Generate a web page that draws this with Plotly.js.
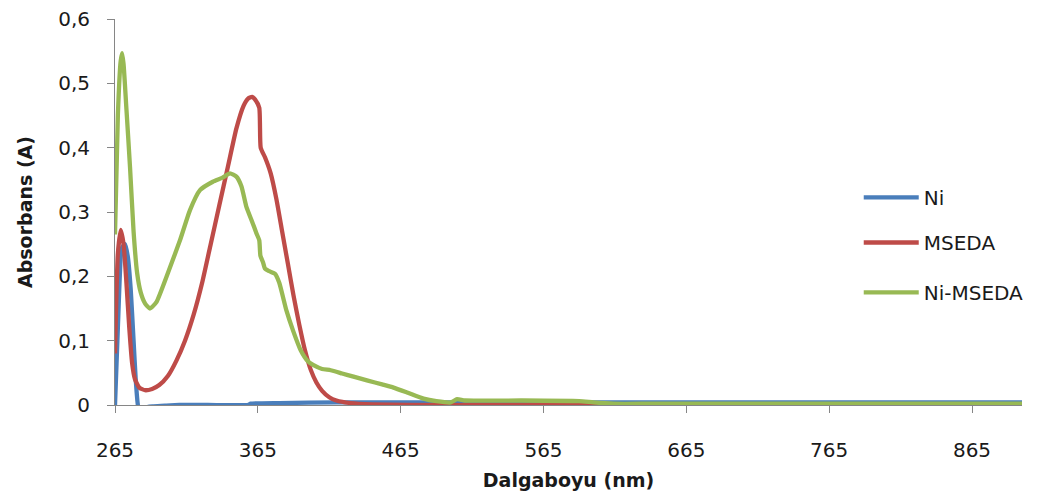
<!DOCTYPE html>
<html>
<head>
<meta charset="utf-8">
<script src="https://cdn.plot.ly/plotly-3.0.1.min.js"></script>
<style>html,body{margin:0;padding:0;background:#fff;}#chart{width:1044px;height:499px;}</style>
</head>
<body>
<div id="chart"></div>
<script>
// Ni
const niX = [265, 267, 269, 270, 272, 274, 276, 278, 279.5, 281, 282.5, 285, 288, 292, 300, 310, 330, 358, 360, 380, 420, 500, 600, 700, 800, 900];
const niY = [0.0, 0.12, 0.23, 0.245, 0.25, 0.23, 0.18, 0.10, 0.04, 0.0, -0.02, -0.02, -0.003, -0.002, -0.001, 0.0, 0.0, 0.0, 0.002, 0.003, 0.004, 0.004, 0.004, 0.004, 0.004, 0.004];
// MSEDA
const msedaX = [265, 267, 269, 271, 273, 275, 277, 279, 282, 286, 291, 296, 302, 308, 314, 320, 326, 332, 338, 344, 350, 355, 358, 361, 363, 366, 367, 370, 374, 378, 382, 386, 390, 394, 398, 402, 406, 410, 415, 420, 430, 445, 470, 520, 600, 700, 800, 900];
const msedaY = [0.08, 0.235, 0.272, 0.25, 0.19, 0.12, 0.065, 0.040, 0.027, 0.023, 0.025, 0.031, 0.045, 0.069, 0.10, 0.14, 0.19, 0.25, 0.31, 0.37, 0.43, 0.465, 0.476, 0.479, 0.475, 0.462, 0.40, 0.385, 0.36, 0.32, 0.27, 0.22, 0.17, 0.125, 0.085, 0.055, 0.035, 0.022, 0.012, 0.007, 0.003, 0.001, 0.0, 0.0, 0.0, 0.0, 0.0, 0.0];
// Ni-MSEDA
const niMsedaX = [265, 267, 269, 270, 271, 273, 275.5, 278, 280.5, 283, 286, 289.5, 294, 301, 310.5, 317.5, 324.5, 333.5, 340, 345.5, 350, 353.5, 357, 361, 364, 366, 366.8, 368.6, 370, 373, 377, 380, 385, 389.6, 395, 400, 404, 410, 416, 424, 432, 442, 452, 460, 470, 481, 490, 500, 504.5, 510, 550, 590, 600, 614, 640, 700, 800, 900];
const niMsedaY = [0.265, 0.45, 0.535, 0.547, 0.53, 0.46, 0.37, 0.27, 0.205, 0.175, 0.158, 0.150, 0.160, 0.199, 0.256, 0.303, 0.334, 0.347, 0.353, 0.360, 0.355, 0.34, 0.308, 0.285, 0.267, 0.256, 0.232, 0.222, 0.212, 0.208, 0.204, 0.19, 0.147, 0.116, 0.085, 0.068, 0.062, 0.056, 0.054, 0.049, 0.044, 0.038, 0.032, 0.027, 0.019, 0.010, 0.006, 0.004, 0.009, 0.007, 0.007, 0.006, 0.004, 0.002, 0.002, 0.002, 0.002, 0.002];

const xTicks = [265, 365, 465, 565, 665, 765, 865];
const xTickLabels = ['265', '365', '465', '565', '665', '765', '865'];
const yTicks = [0, 0.1, 0.2, 0.3, 0.4, 0.5, 0.6];
const yTickLabels = ['0', '0,1', '0,2', '0,3', '0,4', '0,5', '0,6'];

const FONT = 'DejaVu Sans, sans-serif';
const lineStyle = (c) => ({color: c, width: 4.3, shape: 'spline', smoothing: 0.5});
const traces = [
  {x: niX, y: niY, name: 'Ni', mode: 'lines', line: lineStyle('#4A7EBB'), legend: 'legend'},
  {x: msedaX, y: msedaY, name: 'MSEDA', mode: 'lines', line: lineStyle('#BE4B48'), legend: 'legend2'},
  {x: niMsedaX, y: niMsedaY, name: 'Ni-MSEDA', mode: 'lines', line: lineStyle('#98B954'), legend: 'legend3'}
];
const legStyle = (y) => ({x: 0.82, y: y, xanchor: 'left', yanchor: 'middle', itemwidth: 55, bgcolor: 'rgba(0,0,0,0)', font: {family: FONT, size: 20, color: '#1a1a1a'}});
const layout = {
  width: 1044, height: 499,
  margin: {l: 115, r: 22, t: 19, b: 94},
  paper_bgcolor: '#fff', plot_bgcolor: '#fff',
  showlegend: true,
  legend: legStyle(0.538),
  legend2: legStyle(0.421),
  legend3: legStyle(0.292),
  xaxis: {
    range: [265, 900], tickvals: xTicks, ticktext: xTickLabels,
    showgrid: false, zeroline: false, showline: true, linecolor: '#868686', linewidth: 1,
    ticks: 'outside', ticklen: 7, tickcolor: '#868686', ticklabelstandoff: 20,
    tickfont: {family: FONT, size: 20, color: '#1a1a1a'},
    title: {text: '<b>Dalgaboyu (nm)</b>', font: {family: FONT, size: 19, color: '#1a1a1a'}, standoff: 12}
  },
  yaxis: {
    range: [0, 0.6], tickvals: yTicks, ticktext: yTickLabels,
    showgrid: false, zeroline: false, showline: true, linecolor: '#868686', linewidth: 1,
    ticks: 'outside', ticklen: 7, tickcolor: '#868686', ticklabelstandoff: 13,
    tickfont: {family: FONT, size: 20, color: '#1a1a1a'},
    title: {text: '<b>Absorbans (A)</b>', font: {family: FONT, size: 19, color: '#1a1a1a'}, standoff: 20}
  }
};
Plotly.newPlot('chart', traces, layout, {displayModeBar: false, staticPlot: true});
</script>
</body>
</html>
